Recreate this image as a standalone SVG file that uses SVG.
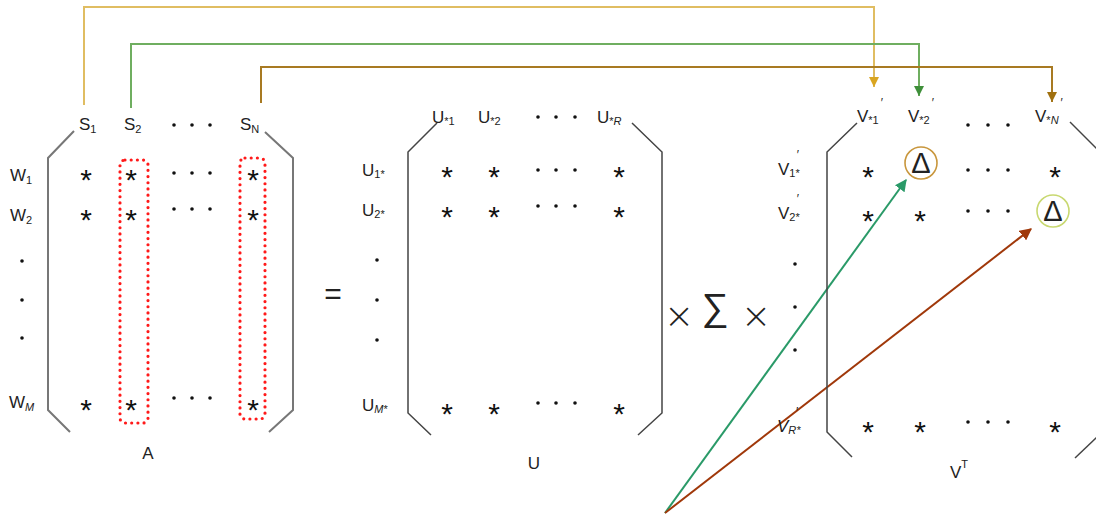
<svg xmlns="http://www.w3.org/2000/svg" width="1096" height="515" viewBox="0 0 1096 515">
<defs>
<style>
text{font-family:"Liberation Sans",Arial,sans-serif;fill:#222}
.lbl{font-size:17px}
.sub{font-size:11px}
.pr{font-size:12px;fill:#222}
.star{font-size:30px;text-anchor:middle;fill:#111}
.brA{fill:none;stroke:#777;stroke-width:2}
.br{fill:none;stroke:#444;stroke-width:1.5}
.red{fill:none;stroke:#ff1a1a;stroke-width:3.2;stroke-linecap:round;stroke-dasharray:0 6.2}
.dot{fill:#111}
.op{font-family:"DejaVu Sans",sans-serif;font-weight:200;text-anchor:middle;fill:#222}
.conn{fill:none;stroke-width:2}
</style>
<marker id="ay" viewBox="0 0 10 10" refX="10" refY="5" markerWidth="5" markerHeight="5" orient="auto"><path d="M0,0L10,5L0,10z" fill="#d9a521"/></marker>
<marker id="ag" viewBox="0 0 10 10" refX="10" refY="5" markerWidth="5" markerHeight="5" orient="auto"><path d="M0,0L10,5L0,10z" fill="#3f8f3a"/></marker>
<marker id="ab" viewBox="0 0 10 10" refX="10" refY="5" markerWidth="5" markerHeight="5" orient="auto"><path d="M0,0L10,5L0,10z" fill="#a0700f"/></marker>
<marker id="at" viewBox="0 0 10 10" refX="9" refY="5" markerWidth="6" markerHeight="6" orient="auto"><path d="M0,0L10,5L0,10z" fill="#2a9a68"/></marker>
<marker id="ar" viewBox="0 0 10 10" refX="9" refY="5" markerWidth="6" markerHeight="6" orient="auto"><path d="M0,0L10,5L0,10z" fill="#a0380a"/></marker>
</defs>
<rect width="1096" height="515" fill="#fff"/>

<g id="connectors">
<path class="conn" d="M84,105V7H874V87" stroke="#e0bd62" marker-end="url(#ay)"/>
<path class="conn" d="M131,108V44H919V96" stroke="#6fae60" marker-end="url(#ag)"/>
<path class="conn" d="M261,103V67H1052V102" stroke="#a87a22" marker-end="url(#ab)"/>
<path class="conn" d="M665,513L906,180" stroke="#2a9a68" marker-end="url(#at)"/>
<path class="conn" d="M665,513L1031,229" stroke="#a0380a" marker-end="url(#ar)"/>
</g>

<g id="matrixA">
<path class="brA" d="M74,131L48,158V410L70,432"/>
<path class="brA" d="M265,132L293,158V410L269,432"/>
<rect class="red" x="120" y="160" width="28" height="263" rx="5"/>
<rect class="red" x="240" y="158" width="25" height="261" rx="5"/>
<text class="lbl" x="79" y="130" font-size="18">S<tspan class="sub" dy="3">1</tspan></text>
<text class="lbl" x="124" y="130" font-size="18">S<tspan class="sub" dy="3">2</tspan></text>
<text class="lbl" x="240" y="130" font-size="18">S<tspan class="sub" dy="3">N</tspan></text>
<circle class="dot" cx="174" cy="125" r="1.8"/><circle class="dot" cx="192" cy="125" r="1.8"/><circle class="dot" cx="210" cy="125" r="1.8"/>
<text class="lbl" x="10" y="181" font-size="18">W<tspan class="sub" dy="3">1</tspan></text>
<text class="lbl" x="10" y="221" font-size="18">W<tspan class="sub" dy="3">2</tspan></text>
<text class="lbl" x="9" y="408" font-size="18">W<tspan class="sub" dy="3" font-style="italic">M</tspan></text>
<circle class="dot" cx="22" cy="261" r="1.8"/><circle class="dot" cx="22" cy="300" r="1.8"/><circle class="dot" cx="22" cy="338" r="1.8"/>
<text class="star" x="86" y="190">*</text><text class="star" x="131" y="190">*</text><text class="star" x="253" y="190">*</text>
<text class="star" x="86" y="230">*</text><text class="star" x="131" y="230">*</text><text class="star" x="253" y="230">*</text>
<text class="star" x="86" y="420">*</text><text class="star" x="131" y="420">*</text><text class="star" x="253" y="420">*</text>
<circle class="dot" cx="174" cy="173" r="1.8"/><circle class="dot" cx="192" cy="173" r="1.8"/><circle class="dot" cx="210" cy="173" r="1.8"/>
<circle class="dot" cx="174" cy="209" r="1.8"/><circle class="dot" cx="192" cy="209" r="1.8"/><circle class="dot" cx="210" cy="209" r="1.8"/>
<circle class="dot" cx="174" cy="398" r="1.8"/><circle class="dot" cx="192" cy="398" r="1.8"/><circle class="dot" cx="210" cy="398" r="1.8"/>
<text class="lbl" x="148" y="459" text-anchor="middle" font-size="19">A</text>
</g>

<g id="equals">
<text x="333" y="304" font-size="30" text-anchor="middle">=</text>
</g>

<g id="matrixU">
<path class="br" d="M437,123L408,152V413L431,435"/>
<path class="br" d="M632,123L662,152V413L638,435"/>
<text class="lbl" x="432" y="123">U<tspan class="sub" dy="2">*1</tspan></text>
<text class="lbl" x="478" y="123">U<tspan class="sub" dy="2">*2</tspan></text>
<text class="lbl" x="597" y="123">U<tspan class="sub" dy="2">*<tspan font-style="italic">R</tspan></tspan></text>
<circle class="dot" cx="538" cy="117" r="1.8"/><circle class="dot" cx="556" cy="117" r="1.8"/><circle class="dot" cx="575" cy="117" r="1.8"/>
<text class="lbl" x="362" y="176">U<tspan class="sub" dy="2">1*</tspan></text>
<text class="lbl" x="362" y="216">U<tspan class="sub" dy="2">2*</tspan></text>
<text class="lbl" x="362" y="411">U<tspan class="sub" dy="2"><tspan font-style="italic">M</tspan>*</tspan></text>
<circle class="dot" cx="377" cy="260" r="1.8"/><circle class="dot" cx="377" cy="300" r="1.8"/><circle class="dot" cx="377" cy="340" r="1.8"/>
<text class="star" x="447" y="187">*</text><text class="star" x="494" y="187">*</text><text class="star" x="619" y="187">*</text>
<text class="star" x="447" y="227">*</text><text class="star" x="494" y="227">*</text><text class="star" x="619" y="227">*</text>
<text class="star" x="447" y="424">*</text><text class="star" x="494" y="424">*</text><text class="star" x="619" y="424">*</text>
<circle class="dot" cx="538" cy="170" r="1.8"/><circle class="dot" cx="556" cy="170" r="1.8"/><circle class="dot" cx="575" cy="170" r="1.8"/>
<circle class="dot" cx="538" cy="206" r="1.8"/><circle class="dot" cx="556" cy="206" r="1.8"/><circle class="dot" cx="575" cy="206" r="1.8"/>
<circle class="dot" cx="538" cy="403" r="1.8"/><circle class="dot" cx="556" cy="403" r="1.8"/><circle class="dot" cx="575" cy="403" r="1.8"/>
<text class="lbl" x="534" y="469" text-anchor="middle" font-size="20">U</text>
</g>

<g id="sigma">
<text class="op" x="679" y="328" font-size="36">×</text>
<text x="715" y="320" font-size="38" text-anchor="middle" font-family="Liberation Serif,serif" fill="#222">∑</text>
<text class="op" x="756" y="328" font-size="36">×</text>
</g>

<g id="matrixV">
<path class="br" d="M857,123L827,152V432L852,457"/>
<path class="br" d="M1070,122L1098,150"/>
<path class="br" d="M1075,458L1098,436"/>
<text class="lbl" x="857" y="122" font-size="18">V<tspan class="sub" dy="2">*1</tspan><tspan class="pr" dx="2" dy="-17">′</tspan></text>
<text class="lbl" x="908" y="122" font-size="18">V<tspan class="sub" dy="2">*2</tspan><tspan class="pr" dx="2" dy="-17">′</tspan></text>
<text class="lbl" x="1035" y="122" font-size="18">V<tspan class="sub" dy="2">*<tspan font-style="italic">N</tspan></tspan><tspan class="pr" dx="2" dy="-17">′</tspan></text>
<circle class="dot" cx="968" cy="125" r="1.8"/><circle class="dot" cx="988" cy="125" r="1.8"/><circle class="dot" cx="1008" cy="125" r="1.8"/>
<text class="lbl" x="778" y="175" font-size="18">V<tspan class="sub" dy="2">1*</tspan><tspan class="pr" dx="-3" dy="-18">′</tspan></text>
<text class="lbl" x="778" y="219" font-size="18">V<tspan class="sub" dy="2">2*</tspan><tspan class="pr" dx="-3" dy="-18">′</tspan></text>
<text class="lbl" x="777" y="432" font-size="18" font-style="italic">V<tspan class="sub" dy="2">R*</tspan><tspan class="pr" dx="-5" dy="-18">′</tspan></text>
<circle class="dot" cx="795" cy="264" r="1.8"/><circle class="dot" cx="795" cy="307" r="1.8"/><circle class="dot" cx="795" cy="350" r="1.8"/>
<text class="star" x="868" y="187">*</text>
<circle cx="921" cy="163" r="16" fill="none" stroke="#c8963c" stroke-width="1.6"/>
<text x="921" y="173" font-size="29" text-anchor="middle" font-family="DejaVu Serif,serif" font-weight="200">Δ</text>
<text class="star" x="1055" y="187">*</text>
<text class="star" x="868" y="231">*</text><text class="star" x="920" y="231">*</text>
<circle cx="1053" cy="211" r="16" fill="none" stroke="#c8d870" stroke-width="1.6"/>
<text x="1053" y="221" font-size="29" text-anchor="middle" font-family="DejaVu Serif,serif" font-weight="200">Δ</text>
<text class="star" x="868" y="442">*</text><text class="star" x="920" y="442">*</text><text class="star" x="1055" y="442">*</text>
<circle class="dot" cx="968" cy="170" r="1.8"/><circle class="dot" cx="988" cy="170" r="1.8"/><circle class="dot" cx="1008" cy="170" r="1.8"/>
<circle class="dot" cx="968" cy="211" r="1.8"/><circle class="dot" cx="988" cy="211" r="1.8"/><circle class="dot" cx="1008" cy="211" r="1.8"/>
<circle class="dot" cx="968" cy="422" r="1.8"/><circle class="dot" cx="988" cy="422" r="1.8"/><circle class="dot" cx="1008" cy="422" r="1.8"/>
<text class="lbl" x="950" y="478" font-size="21">V<tspan class="sub" font-size="12" dy="-10">T</tspan></text>
</g>
</svg>
